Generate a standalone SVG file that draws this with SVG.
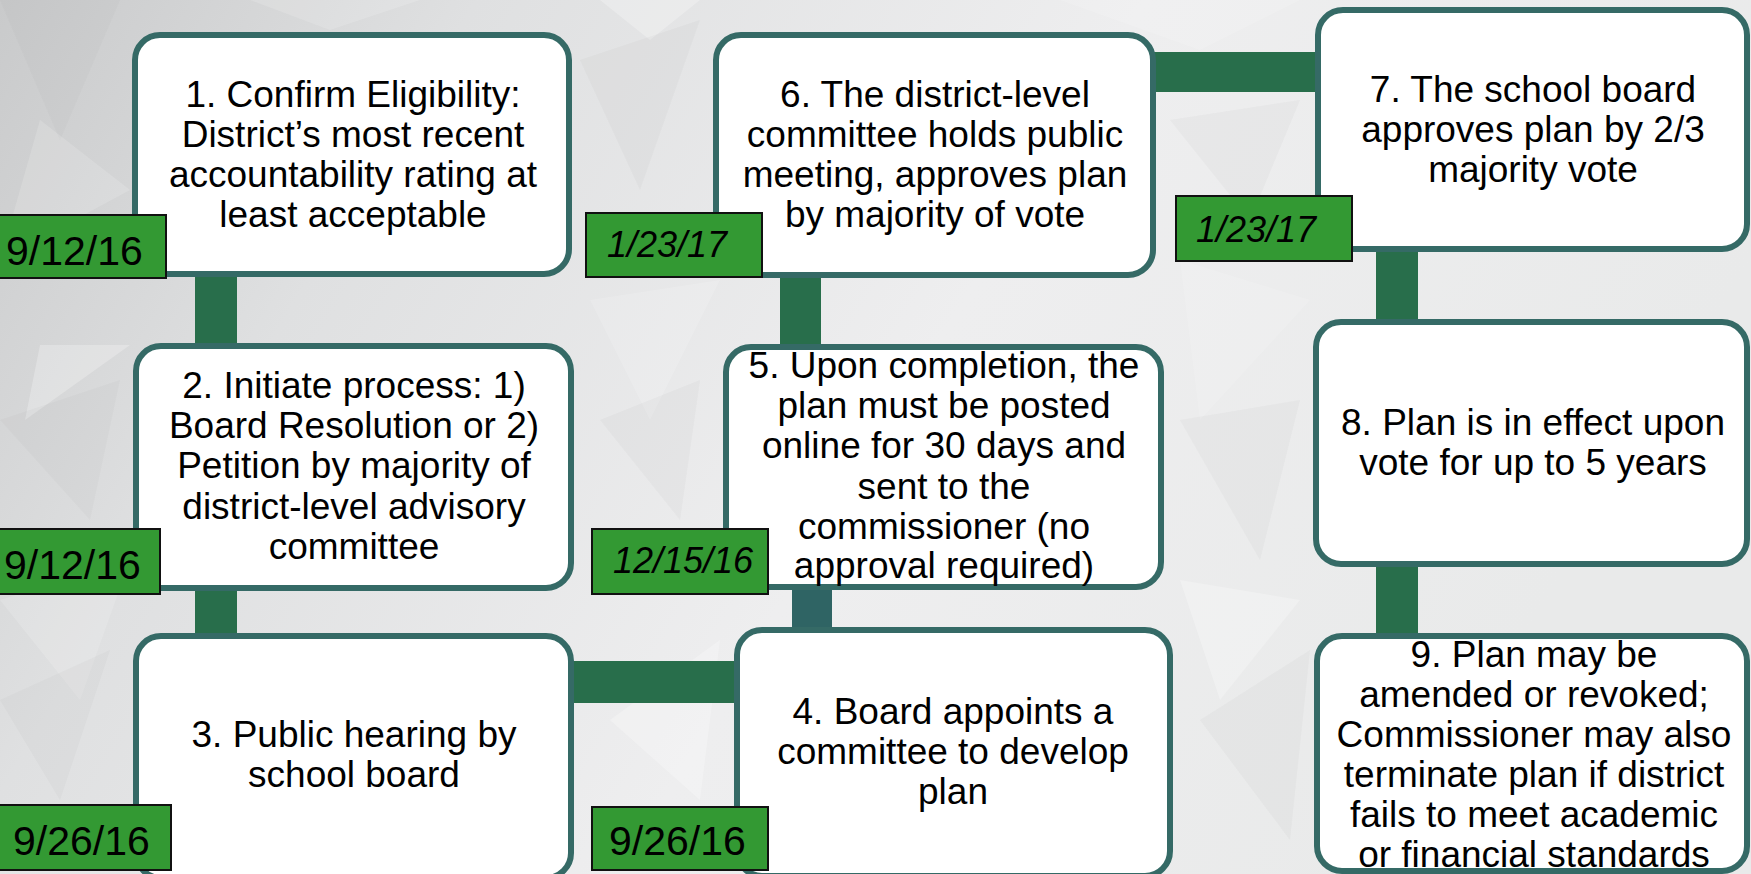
<svg xmlns="http://www.w3.org/2000/svg" width="1751" height="874" viewBox="0 0 1751 874">
<defs>
<linearGradient id="bg" x1="0" y1="0" x2="1" y2="0.3">
<stop offset="0" stop-color="#c9cacb"/>
<stop offset="0.25" stop-color="#dfe0e1"/>
<stop offset="0.6" stop-color="#eeeeef"/>
<stop offset="1" stop-color="#e9eaea"/>
</linearGradient>
<style>
.box{fill:#ffffff;stroke:#356a66;stroke-width:6}
.con{fill:#286e4b}
.con2{fill:#2f6464}
.date{fill:#339933;stroke:#111111;stroke-width:2}
.t{font-family:"Liberation Sans",Arial,sans-serif;font-size:37px;fill:#000000;text-anchor:middle}
.d{font-family:"Liberation Sans",Arial,sans-serif;font-size:41px;fill:#000000}
.di{font-family:"Liberation Sans",Arial,sans-serif;font-size:36px;font-style:italic;fill:#000000}
.lp1{fill:#ffffff;opacity:0.25}
.lp2{fill:#ffffff;opacity:0.15}
.dp1{fill:#9a9b9c;opacity:0.07}
</style>
</defs>
<g id="background">
<rect x="0" y="0" width="1751" height="874" fill="url(#bg)"/>
<polygon class="dp1" points="0,0 120,0 60,140"/>
<polygon class="lp2" points="40,120 130,190 0,260"/>
<polygon class="lp1" points="40,345 130,345 25,420"/>
<polygon class="dp1" points="0,420 120,380 90,520"/>
<polygon class="lp2" points="0,600 130,560 80,700"/>
<polygon class="dp1" points="0,700 110,650 60,800"/>
<polygon class="lp2" points="250,0 420,0 330,30"/>
<polygon class="lp1" points="600,0 700,0 650,40"/>
<polygon class="dp1" points="580,60 700,20 640,190"/>
<polygon class="lp2" points="590,300 720,280 650,420"/>
<polygon class="dp1" points="600,420 700,380 680,520"/>
<polygon class="lp1" points="610,720 720,640 700,800"/>
<polygon class="dp1" points="1170,120 1300,100 1250,220"/>
<polygon class="lp2" points="1180,260 1310,300 1200,420"/>
<polygon class="dp1" points="1180,420 1300,400 1260,560"/>
<polygon class="lp1" points="1180,580 1300,600 1220,700"/>
<polygon class="dp1" points="1200,720 1310,650 1290,840"/>
<polygon class="lp2" points="1060,0 1300,0 1200,50"/>
<polygon class="lp2" points="0,840 300,874 0,874"/>
</g>
<g id="connectors">
<rect class="con" x="195" y="270" width="42" height="80"/>
<rect class="con" x="195" y="585" width="42" height="52"/>
<rect class="con" x="570" y="661" width="168" height="42"/>
<rect class="con2" x="792" y="585" width="40" height="46"/>
<rect class="con" x="780" y="272" width="41" height="76"/>
<rect class="con" x="1150" y="52" width="170" height="40"/>
<rect class="con" x="1376" y="248" width="42" height="75"/>
<rect class="con" x="1376" y="563" width="42" height="74"/>
</g>
<g id="node1">
<rect class="box" x="135" y="35" width="434" height="239" rx="25"/>
<text class="t" x="353" y="107">1. Confirm Eligibility:</text>
<text class="t" x="353" y="147">District’s most recent</text>
<text class="t" x="353" y="187">accountability rating at</text>
<text class="t" x="353" y="227">least acceptable</text>
</g>
<g id="node2">
<rect class="box" x="136" y="346" width="435" height="242" rx="25"/>
<text class="t" x="354" y="398">2. Initiate process: 1)</text>
<text class="t" x="354" y="438">Board Resolution or 2)</text>
<text class="t" x="354" y="478">Petition by majority of</text>
<text class="t" x="354" y="519">district-level advisory</text>
<text class="t" x="354" y="559">committee</text>
</g>
<g id="node3">
<rect class="box" x="136" y="636" width="435" height="242" rx="25"/>
<text class="t" x="354" y="747">3. Public hearing by</text>
<text class="t" x="354" y="787">school board</text>
</g>
<g id="node4">
<rect class="box" x="737" y="630" width="433" height="246" rx="25"/>
<text class="t" x="953" y="724">4. Board appoints a</text>
<text class="t" x="953" y="764">committee to develop</text>
<text class="t" x="953" y="804">plan</text>
</g>
<g id="node5">
<rect class="box" x="726" y="347" width="435" height="240" rx="25"/>
<text class="t" x="944" y="378">5. Upon completion, the</text>
<text class="t" x="944" y="418">plan must be posted</text>
<text class="t" x="944" y="458">online for 30 days and</text>
<text class="t" x="944" y="499">sent to the</text>
<text class="t" x="944" y="539">commissioner (no</text>
<text class="t" x="944" y="578">approval required)</text>
</g>
<g id="node6">
<rect class="box" x="716" y="35" width="437" height="240" rx="25"/>
<text class="t" x="935" y="107">6. The district-level</text>
<text class="t" x="935" y="147">committee holds public</text>
<text class="t" x="935" y="187">meeting, approves plan</text>
<text class="t" x="935" y="227">by majority of vote</text>
</g>
<g id="node7">
<rect class="box" x="1318" y="10" width="429" height="239" rx="25"/>
<text class="t" x="1533" y="102">7. The school board</text>
<text class="t" x="1533" y="142">approves plan by 2/3</text>
<text class="t" x="1533" y="182">majority vote</text>
</g>
<g id="node8">
<rect class="box" x="1316" y="322" width="431" height="242" rx="25"/>
<text class="t" x="1533" y="435">8. Plan is in effect upon</text>
<text class="t" x="1533" y="475">vote for up to 5 years</text>
</g>
<g id="node9">
<rect class="box" x="1317" y="636" width="430" height="235" rx="25"/>
<text class="t" x="1534" y="667">9. Plan may be</text>
<text class="t" x="1534" y="707">amended or revoked;</text>
<text class="t" x="1534" y="747">Commissioner may also</text>
<text class="t" x="1534" y="787">terminate plan if district</text>
<text class="t" x="1534" y="827">fails to meet academic</text>
<text class="t" x="1534" y="867">or financial standards</text>
</g>
<g id="date1">
<rect class="date" x="-5" y="215" width="171" height="63"/>
<text class="d" x="6" y="265">9/12/16</text>
</g>
<g id="date2">
<rect class="date" x="-5" y="529" width="165" height="65"/>
<text class="d" x="4" y="579">9/12/16</text>
</g>
<g id="date3">
<rect class="date" x="-5" y="805" width="176" height="65"/>
<text class="d" x="13" y="855">9/26/16</text>
</g>
<g id="date4">
<rect class="date" x="592" y="807" width="176" height="63"/>
<text class="d" x="609" y="855">9/26/16</text>
</g>
<g id="date5">
<rect class="date" x="592" y="529" width="176" height="65"/>
<text class="di" x="613" y="573">12/15/16</text>
</g>
<g id="date6">
<rect class="date" x="586" y="213" width="176" height="64"/>
<text class="di" x="607" y="257">1/23/17</text>
</g>
<g id="date7">
<rect class="date" x="1176" y="196" width="176" height="65"/>
<text class="di" x="1196" y="242">1/23/17</text>
</g>
</svg>
